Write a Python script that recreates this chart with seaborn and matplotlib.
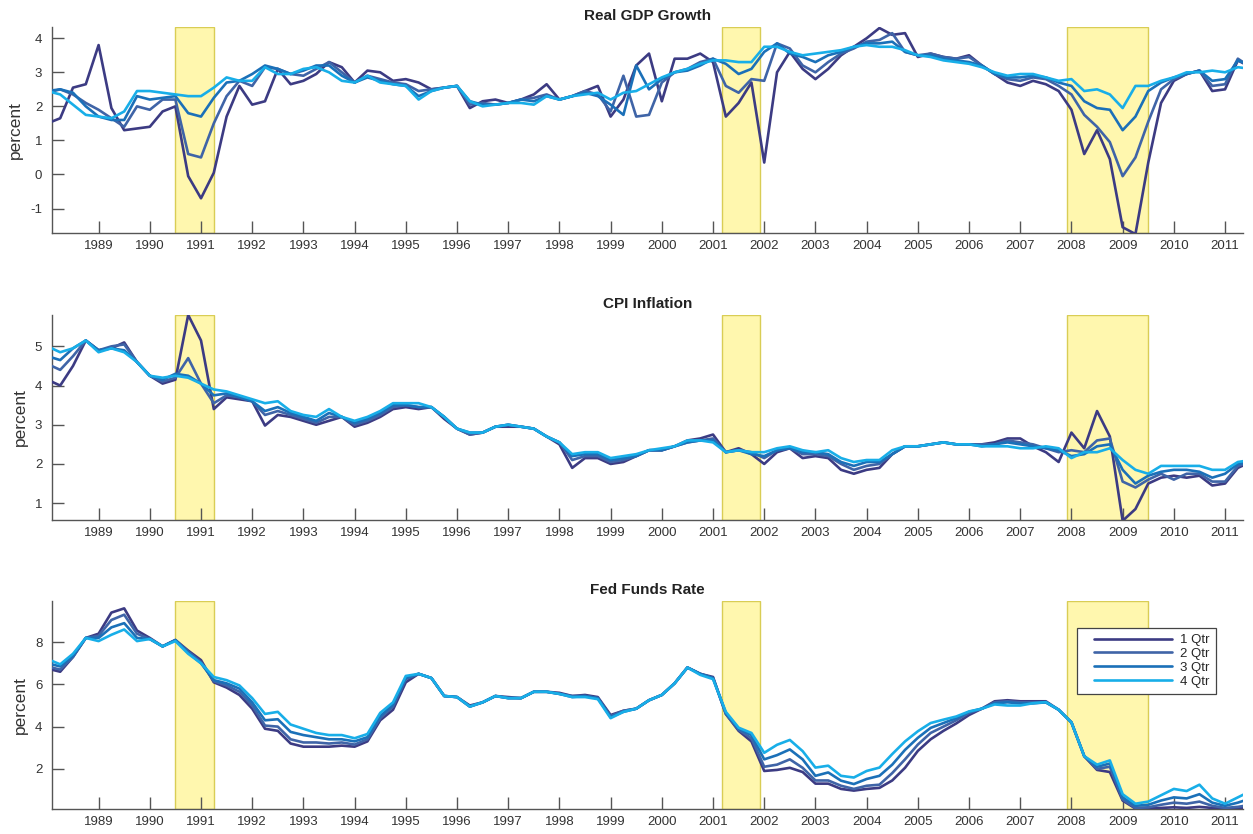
import numpy as np
import pandas as pd
import matplotlib
matplotlib.use("Agg")
import matplotlib.pyplot as plt
from matplotlib.legend_handler import HandlerLine2D
import seaborn as sns

# ---- quarterly forecast paths, 1988Q1 .. 2011Q3 (one row per year) ----
gdp_1q = [1.50, 1.65, 2.55, 2.65,  3.80, 1.95, 1.30, 1.35,  1.40, 1.85, 2.00, -0.05,
          -0.70, 0.05, 1.70, 2.60,  2.05, 2.15, 3.10, 2.65,  2.75, 2.95, 3.30, 3.15,
          2.70, 3.05, 3.00, 2.75,  2.80, 2.70, 2.50, 2.55,  2.60, 1.95, 2.15, 2.20,
          2.10, 2.20, 2.35, 2.65,  2.20, 2.30, 2.45, 2.60,  1.70, 2.20, 3.20, 3.55,
          2.15, 3.40, 3.40, 3.55,  3.30, 1.70, 2.10, 2.70,  0.35, 3.00, 3.60, 3.10,
          2.80, 3.10, 3.50, 3.75,  4.00, 4.30, 4.10, 4.15,  3.45, 3.55, 3.45, 3.40,
          3.50, 3.20, 2.95, 2.70,  2.60, 2.75, 2.65, 2.45,  1.90, 0.60, 1.30, 0.45,
          -1.55, -1.75, 0.35, 2.10,  2.75, 2.95, 3.05, 2.45,  2.50, 3.35, 3.15]
gdp_2q = [2.40, 2.50, 2.35, 2.10,  1.90, 1.65, 1.40, 2.00,  1.90, 2.20, 2.20, 0.60,
          0.50, 1.50, 2.30, 2.75,  2.60, 3.15, 3.10, 2.95,  2.90, 3.10, 3.30, 3.00,
          2.70, 2.90, 2.80, 2.70,  2.65, 2.45, 2.50, 2.55,  2.60, 2.05, 2.10, 2.05,
          2.10, 2.20, 2.25, 2.35,  2.20, 2.30, 2.45, 2.35,  1.85, 2.90, 1.70, 1.75,
          2.70, 3.00, 3.10, 3.30,  3.40, 2.60, 2.40, 2.80,  2.75, 3.85, 3.70, 3.20,
          3.00, 3.30, 3.55, 3.70,  3.90, 3.95, 4.15, 3.60,  3.50, 3.55, 3.45, 3.40,
          3.45, 3.20, 2.95, 2.80,  2.75, 2.85, 2.80, 2.60,  2.35, 1.75, 1.40, 0.95,
          -0.05, 0.50, 1.55, 2.50,  2.80, 2.95, 3.05, 2.60,  2.65, 3.40, 3.15]
gdp_3q = [2.45, 2.50, 2.40, 2.00,  1.70, 1.60, 1.60, 2.30,  2.20, 2.25, 2.30, 1.80,
          1.70, 2.25, 2.70, 2.75,  2.95, 3.20, 3.10, 2.95,  3.05, 3.20, 3.20, 2.90,
          2.70, 2.85, 2.75, 2.65,  2.60, 2.30, 2.45, 2.55,  2.60, 2.15, 2.05, 2.05,
          2.10, 2.20, 2.15, 2.30,  2.20, 2.30, 2.40, 2.30,  2.05, 1.75, 3.20, 2.50,
          2.80, 3.00, 3.05, 3.20,  3.40, 3.25, 2.95, 3.10,  3.60, 3.85, 3.55, 3.45,
          3.30, 3.50, 3.60, 3.75,  3.85, 3.85, 3.90, 3.60,  3.50, 3.50, 3.40, 3.35,
          3.30, 3.20, 2.95, 2.85,  2.85, 2.90, 2.85, 2.70,  2.60, 2.15, 1.95, 1.90,
          1.30, 1.70, 2.45, 2.70,  2.85, 2.95, 3.05, 2.75,  2.80, 3.35, 3.20]
gdp_4q = [2.45, 2.35, 2.05, 1.75,  1.70, 1.65, 1.85, 2.45,  2.45, 2.40, 2.35, 2.30,
          2.30, 2.55, 2.85, 2.75,  2.75, 3.15, 2.95, 2.95,  3.10, 3.15, 3.00, 2.75,
          2.70, 2.90, 2.70, 2.65,  2.60, 2.20, 2.45, 2.55,  2.60, 2.15, 2.00, 2.05,
          2.10, 2.10, 2.05, 2.30,  2.20, 2.30, 2.35, 2.40,  2.20, 2.40, 2.45, 2.65,
          2.85, 3.00, 3.10, 3.25,  3.35, 3.35, 3.30, 3.30,  3.75, 3.75, 3.60, 3.50,
          3.55, 3.60, 3.65, 3.75,  3.80, 3.75, 3.75, 3.65,  3.50, 3.45, 3.35, 3.30,
          3.25, 3.15, 3.00, 2.90,  2.95, 2.95, 2.85, 2.75,  2.80, 2.45, 2.50, 2.35,
          1.95, 2.60, 2.60, 2.75,  2.85, 3.00, 3.00, 3.05,  3.00, 3.15, 3.10]

cpi_1q = [4.15, 4.00, 4.50, 5.15,  4.90, 4.95, 5.10, 4.60,  4.25, 4.05, 4.15, 5.80,
          5.15, 3.40, 3.70, 3.65,  3.60, 2.98, 3.25, 3.20,  3.10, 3.00, 3.10, 3.20,
          2.95, 3.05, 3.20, 3.40,  3.45, 3.40, 3.45, 3.15,  2.90, 2.75, 2.80, 2.95,
          2.95, 2.95, 2.90, 2.70,  2.50, 1.90, 2.15, 2.15,  2.00, 2.05, 2.20, 2.35,
          2.35, 2.45, 2.60, 2.65,  2.75, 2.30, 2.40, 2.25,  2.00, 2.30, 2.40, 2.15,
          2.20, 2.15, 1.85, 1.75,  1.85, 1.90, 2.25, 2.45,  2.45, 2.50, 2.55, 2.50,
          2.50, 2.50, 2.55, 2.65,  2.65, 2.45, 2.30, 2.05,  2.80, 2.40, 3.35, 2.70,
          0.55, 0.85, 1.50, 1.65,  1.70, 1.65, 1.70, 1.45,  1.50, 1.90, 2.05]
cpi_2q = [4.55, 4.40, 4.75, 5.15,  4.90, 5.00, 5.05, 4.60,  4.25, 4.10, 4.20, 4.70,
          4.05, 3.55, 3.75, 3.70,  3.60, 3.25, 3.35, 3.25,  3.15, 3.05, 3.20, 3.20,
          3.00, 3.10, 3.25, 3.45,  3.50, 3.45, 3.45, 3.20,  2.90, 2.75, 2.80, 2.95,
          3.00, 2.95, 2.90, 2.70,  2.55, 2.10, 2.20, 2.20,  2.05, 2.10, 2.20, 2.35,
          2.35, 2.45, 2.55, 2.60,  2.65, 2.30, 2.35, 2.30,  2.15, 2.35, 2.40, 2.25,
          2.25, 2.20, 2.00, 1.85,  1.95, 2.00, 2.25, 2.45,  2.45, 2.50, 2.55, 2.50,
          2.50, 2.50, 2.50, 2.60,  2.55, 2.50, 2.40, 2.30,  2.35, 2.30, 2.60, 2.65,
          1.55, 1.40, 1.60, 1.75,  1.60, 1.75, 1.75, 1.55,  1.55, 1.95, 2.05]
cpi_3q = [4.75, 4.65, 4.95, 5.15,  4.90, 4.95, 4.90, 4.60,  4.25, 4.15, 4.30, 4.25,
          4.05, 3.75, 3.80, 3.70,  3.60, 3.35, 3.45, 3.30,  3.20, 3.10, 3.30, 3.20,
          3.05, 3.15, 3.30, 3.50,  3.50, 3.45, 3.45, 3.20,  2.90, 2.80, 2.80, 2.95,
          3.00, 2.95, 2.90, 2.70,  2.55, 2.20, 2.25, 2.25,  2.10, 2.15, 2.20, 2.35,
          2.35, 2.45, 2.55, 2.60,  2.60, 2.30, 2.35, 2.25,  2.20, 2.35, 2.40, 2.30,
          2.30, 2.25, 2.05, 1.95,  2.05, 2.05, 2.25, 2.45,  2.45, 2.50, 2.55, 2.50,
          2.50, 2.45, 2.50, 2.55,  2.50, 2.45, 2.40, 2.35,  2.20, 2.25, 2.45, 2.50,
          1.85, 1.50, 1.70, 1.80,  1.85, 1.85, 1.80, 1.65,  1.75, 2.00, 2.05]
cpi_4q = [5.00, 4.85, 4.95, 5.15,  4.85, 4.95, 4.85, 4.60,  4.25, 4.20, 4.25, 4.20,
          4.05, 3.90, 3.85, 3.75,  3.65, 3.55, 3.60, 3.35,  3.25, 3.20, 3.40, 3.20,
          3.10, 3.20, 3.35, 3.55,  3.55, 3.55, 3.45, 3.20,  2.90, 2.80, 2.80, 2.95,
          3.00, 2.95, 2.90, 2.70,  2.55, 2.25, 2.30, 2.30,  2.15, 2.20, 2.25, 2.35,
          2.40, 2.45, 2.60, 2.60,  2.55, 2.30, 2.35, 2.30,  2.30, 2.40, 2.45, 2.35,
          2.30, 2.35, 2.15, 2.05,  2.10, 2.10, 2.35, 2.45,  2.45, 2.50, 2.55, 2.50,
          2.50, 2.45, 2.45, 2.45,  2.40, 2.40, 2.45, 2.40,  2.15, 2.30, 2.30, 2.40,
          2.10, 1.85, 1.75, 1.95,  1.95, 1.95, 1.95, 1.85,  1.85, 2.05, 2.10]

ffr_1q = [6.75, 6.60, 7.30, 8.20,  8.40, 9.40, 9.60, 8.55,  8.20, 7.80, 8.10, 7.60,
          7.15, 6.10, 5.85, 5.50,  4.85, 3.90, 3.80, 3.20,  3.05, 3.05, 3.05, 3.10,
          3.05, 3.30, 4.30, 4.80,  6.10, 6.50, 6.30, 5.45,  5.40, 5.00, 5.15, 5.45,
          5.40, 5.35, 5.65, 5.65,  5.60, 5.45, 5.50, 5.40,  4.55, 4.75, 4.85, 5.25,
          5.50, 6.05, 6.80, 6.50,  6.35, 4.60, 3.80, 3.30,  1.90, 1.95, 2.05, 1.85,
          1.30, 1.30, 1.05, 0.97,  1.05, 1.10, 1.45, 2.05,  2.85, 3.40, 3.80, 4.15,
          4.55, 4.85, 5.20, 5.25,  5.20, 5.20, 5.20, 4.80,  4.20, 2.60, 1.95, 1.85,
          0.50, 0.12, 0.12, 0.15,  0.18, 0.15, 0.20, 0.15,  0.12, 0.15, 0.15]
ffr_2q = [6.85, 6.70, 7.30, 8.20,  8.30, 9.05, 9.30, 8.40,  8.15, 7.80, 8.10, 7.55,
          7.05, 6.15, 5.95, 5.65,  5.00, 4.05, 4.00, 3.40,  3.25, 3.25, 3.20, 3.25,
          3.15, 3.40, 4.40, 4.95,  6.25, 6.50, 6.30, 5.45,  5.40, 4.95, 5.15, 5.45,
          5.35, 5.35, 5.65, 5.65,  5.55, 5.45, 5.45, 5.35,  4.50, 4.75, 4.85, 5.25,
          5.50, 6.05, 6.80, 6.50,  6.30, 4.60, 3.85, 3.45,  2.10, 2.20, 2.45, 2.05,
          1.45, 1.45, 1.20, 1.05,  1.20, 1.25, 1.80, 2.45,  3.15, 3.70, 4.00, 4.30,
          4.65, 4.85, 5.15, 5.20,  5.15, 5.15, 5.15, 4.80,  4.20, 2.60, 2.00, 2.10,
          0.55, 0.15, 0.18, 0.30,  0.40, 0.35, 0.45, 0.25,  0.15, 0.20, 0.30]
ffr_3q = [7.00, 6.85, 7.35, 8.20,  8.20, 8.70, 8.90, 8.20,  8.15, 7.80, 8.10, 7.50,
          7.00, 6.20, 6.05, 5.80,  5.15, 4.30, 4.35, 3.75,  3.60, 3.50, 3.40, 3.40,
          3.30, 3.50, 4.50, 5.05,  6.30, 6.50, 6.30, 5.45,  5.40, 4.95, 5.15, 5.45,
          5.35, 5.35, 5.65, 5.65,  5.55, 5.40, 5.45, 5.35,  4.45, 4.70, 4.85, 5.25,
          5.50, 6.05, 6.80, 6.50,  6.30, 4.65, 3.90, 3.60,  2.45, 2.65, 2.92, 2.45,
          1.67, 1.83, 1.44, 1.28,  1.52, 1.67, 2.20, 2.90,  3.47, 3.94, 4.17, 4.40,
          4.70, 4.85, 5.10, 5.15,  5.10, 5.10, 5.15, 4.80,  4.20, 2.60, 2.10, 2.25,
          0.65, 0.25, 0.30, 0.50,  0.65, 0.60, 0.80, 0.40,  0.25, 0.40, 0.60]
ffr_4q = [7.20, 6.95, 7.45, 8.20,  8.05, 8.35, 8.60, 8.05,  8.15, 7.80, 8.05, 7.45,
          7.00, 6.35, 6.20, 5.95,  5.35, 4.60, 4.70, 4.10,  3.90, 3.70, 3.60, 3.60,
          3.45, 3.65, 4.65, 5.15,  6.40, 6.50, 6.30, 5.45,  5.40, 4.95, 5.15, 5.45,
          5.35, 5.35, 5.65, 5.65,  5.55, 5.40, 5.40, 5.30,  4.40, 4.70, 4.85, 5.25,
          5.50, 6.05, 6.80, 6.45,  6.25, 4.70, 3.95, 3.70,  2.76, 3.14, 3.37, 2.84,
          2.06, 2.15, 1.67, 1.59,  1.90, 2.06, 2.70, 3.30,  3.78, 4.17, 4.33, 4.48,
          4.72, 4.85, 5.05, 5.00,  5.00, 5.11, 5.16, 4.80,  4.20, 2.60, 2.20, 2.40,
          0.80, 0.35, 0.45, 0.75,  1.05, 0.95, 1.25, 0.60,  0.35, 0.65, 0.95]

horizons = ["1 Qtr", "2 Qtr", "3 Qtr", "4 Qtr"]
line_colors = ["#3c3b83", "#3f64a7", "#1b70b8", "#18aee8"]

# NBER recessions (start, end) in fractional years
recessions = [(1990.5, 1991.25), (2001.17, 2001.92), (2007.92, 2009.5)]

panels = [
    ("Real GDP Growth", [gdp_1q, gdp_2q, gdp_3q, gdp_4q], (-1.72, 4.33), [-1, 0, 1, 2, 3, 4]),
    ("CPI Inflation", [cpi_1q, cpi_2q, cpi_3q, cpi_4q], (0.57, 5.8), [1, 2, 3, 4, 5]),
    ("Fed Funds Rate", [ffr_1q, ffr_2q, ffr_3q, ffr_4q], (0.1, 9.95), [2, 4, 6, 8]),
]
year_ticks = list(range(1989, 2012))

dates = 1988.0 + 0.25 * np.arange(len(gdp_1q))


class InsetLineHandler(HandlerLine2D):
    """Legend line that leaves a blank gap on its left side."""

    def __init__(self, inset_px, **kw):
        super().__init__(**kw)
        self.inset_px = inset_px

    def create_artists(self, legend, orig_handle, xdescent, ydescent, width,
                       height, fontsize, trans):
        artists = super().create_artists(legend, orig_handle, xdescent, ydescent,
                                         width, height, fontsize, trans)
        inset = self.inset_px * 72.0 / legend.figure.dpi
        line = artists[0]
        xd = np.asarray(line.get_xdata(), dtype=float)
        line.set_xdata(np.linspace(xd[0] + inset, xd[-1], len(xd)))
        return artists


sns.set_theme(style="white")
plt.rcParams["font.family"] = ["Liberation Sans", "DejaVu Sans"]

fig = plt.figure(figsize=(12.53, 8.34), dpi=100)
axes_rects = [
    [0.0415, 0.7206, 0.9505, 0.2470],
    [0.0415, 0.3765, 0.9505, 0.2458],
    [0.0415, 0.0300, 0.9505, 0.2494],
]

for i, (title, series, ylim, yticks) in enumerate(panels):
    ax = fig.add_axes(axes_rects[i])
    frames = []
    for name, vals in zip(horizons, series):
        frames.append(pd.DataFrame({"year": dates, "value": vals, "horizon": name}))
    df = pd.concat(frames, ignore_index=True)

    for (a, b) in recessions:
        ax.axvspan(a, b, facecolor="#fff7ae", edgecolor="#d9cd55", linewidth=1.0, zorder=0)

    sns.lineplot(data=df, x="year", y="value", hue="horizon", hue_order=horizons,
                 palette=line_colors, linewidth=1.9, estimator=None, sort=False,
                 legend=(i == 2), ax=ax, zorder=3)

    ax.set_xlim(1988.09, 2011.35)
    ax.set_ylim(*ylim)
    ax.set_xticks(year_ticks)
    ax.set_xticklabels([str(y) for y in year_ticks])
    ax.set_yticks(yticks)
    ax.set_yticklabels([str(v) for v in yticks])
    ax.set_xlabel("")
    ax.set_ylabel("percent", fontsize=12.5, color="#333333", labelpad=5)
    ax.set_title(title, fontsize=11, fontweight="bold", color="#222222", pad=5)

    for side in ("top", "right"):
        ax.spines[side].set_visible(False)
    for side in ("left", "bottom"):
        ax.spines[side].set_color("#555555")
        ax.spines[side].set_linewidth(1.0)
    ax.tick_params(axis="both", direction="in", length=8.5, width=1.0, color="#555555",
                   labelsize=9.5, labelcolor="#333333", bottom=True, left=True)
    ax.tick_params(axis="x", pad=5)
    ax.tick_params(axis="y", pad=7)
    ax.grid(False)

    if i == 2:
        handles, labels = ax.get_legend_handles_labels()
        leg = ax.legend(handles, labels, loc="upper right", bbox_to_anchor=(0.977, 0.870),
                        borderaxespad=0, fontsize=9.5, frameon=True, fancybox=False,
                        handlelength=6.8, handletextpad=0.6, labelspacing=0.12,
                        borderpad=0.45,
                        handler_map={h: InsetLineHandler(11) for h in handles})
        frame = leg.get_frame()
        frame.set_edgecolor("#444444")
        frame.set_linewidth(0.9)
        frame.set_facecolor("white")
        frame.set_alpha(1.0)
        for line in leg.get_lines():
            line.set_linewidth(1.9)

fig.savefig("out.png", dpi=100, facecolor="white")
